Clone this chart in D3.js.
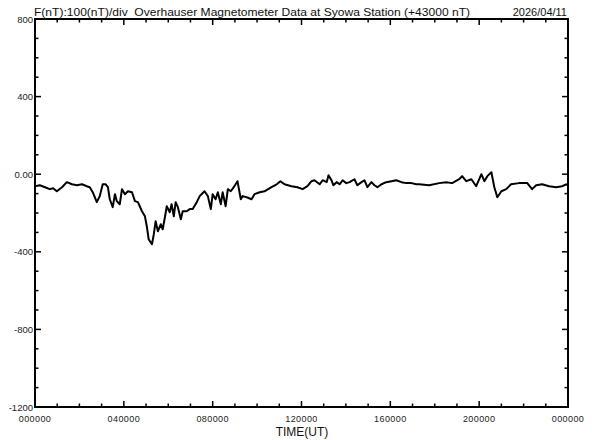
<!DOCTYPE html>
<html><head><meta charset="utf-8">
<script src="https://cdn.jsdelivr.net/npm/d3@7"></script>
<style>body{margin:0;background:#fff}svg{display:block}text{white-space:pre}</style>
</head><body>
<script>
// time in minutes of day (UT), F minus 43000 nT
const timeMin = [0,13,27,40,49,59,73,86,100,113,127,140,148,156,167,175,183,191,197,202,210,216,221,229,235,243,251,262,270,278,289,297,302,307,316,321,326,332,340,345,351,356,364,369,375,380,386,394,399,410,418,426,437,445,450,458,467,475,480,488,494,502,507,515,521,529,537,547,556,561,572,585,593,607,620,639,653,663,674,693,709,723,736,747,755,769,777,788,793,801,806,815,823,831,841,850,863,871,882,890,898,909,917,925,936,949,963,976,990,1003,1017,1030,1038,1065,1092,1111,1127,1146,1154,1165,1179,1192,1206,1214,1222,1233,1241,1249,1260,1273,1286,1308,1330,1343,1354,1370,1389,1408,1424,1435,1440];
const fValue = [-62,-57,-67,-77,-72,-88,-67,-41,-52,-57,-52,-62,-67,-93,-144,-113,-52,-52,-67,-129,-170,-103,-139,-155,-77,-103,-88,-93,-139,-144,-191,-217,-268,-335,-361,-309,-242,-294,-258,-284,-222,-165,-196,-155,-217,-144,-170,-232,-191,-191,-180,-180,-144,-113,-103,-88,-113,-180,-103,-129,-93,-155,-93,-165,-77,-88,-67,-36,-129,-113,-119,-129,-103,-93,-88,-67,-52,-36,-52,-62,-67,-77,-62,-36,-31,-52,-31,-41,-5,-31,-57,-41,-52,-31,-46,-41,-26,-57,-41,-31,-67,-41,-57,-67,-52,-41,-36,-31,-41,-46,-46,-52,-52,-57,-46,-41,-46,-26,-10,-36,-26,-62,0,-36,-10,10,-67,-119,-88,-77,-52,-46,-46,-77,-57,-52,-62,-67,-62,-52,-57];
const yTickValues = [800,400,0,-400,-800,-1200];
const yTickLabels = ["800","400","0.00","-400","-800","-1200"];
const xTickValues = [0,240,480,720,960,1200,1440];
const xTickLabels = ["000000","040000","080000","120000","160000","200000","000000"];
const titleText = "F(nT):100(nT)/div  Overhauser Magnetometer Data at Syowa Station (+43000 nT)";
const dateText = "2026/04/11";
const xAxisTitle = "TIME(UT)";

const W = 592, H = 440;
const L = 35, R = 568, T = 19, B = 407;
const svg = d3.select("body").append("svg").attr("width", W).attr("height", H);
const x = d3.scaleLinear().domain([0,1440]).range([L,R]);
const y = d3.scaleLinear().domain([-1200,800]).range([B,T]);
const font = "'Liberation Sans', Arial, sans-serif";

// minor / major ticks
const g = svg.append("g").attr("stroke","#000").attr("stroke-width",1.5);
d3.range(0,1441,60).forEach(m => {
  const len = (m % 240 === 0) ? 6 : 3.5;
  g.append("line").attr("x1",x(m)).attr("x2",x(m)).attr("y1",B).attr("y2",B-len);
  g.append("line").attr("x1",x(m)).attr("x2",x(m)).attr("y1",T).attr("y2",T+len);
});
d3.range(-1200,801,100).forEach(v => {
  const len = (v % 400 === 0) ? 6 : 3.5;
  g.append("line").attr("x1",L).attr("x2",L+len).attr("y1",y(v)).attr("y2",y(v));
  g.append("line").attr("x1",R).attr("x2",R-len).attr("y1",y(v)).attr("y2",y(v));
});

// frame
svg.append("rect").attr("x",L).attr("y",T).attr("width",R-L).attr("height",B-T)
  .attr("fill","none").attr("stroke","#000").attr("stroke-width",2);

// data line
const pts = timeMin.map((t,i)=>[t,fValue[i]]);
svg.append("path").datum(pts)
  .attr("d", d3.line().x(d=>x(d[0])).y(d=>y(d[1])))
  .attr("fill","none").attr("stroke","#000").attr("stroke-width",2).attr("stroke-linejoin","round");

// y labels
yTickValues.forEach((v,i)=>{
  svg.append("text").attr("x",L-2).attr("y",y(v)+3.5).attr("text-anchor","end")
    .attr("font-family",font).attr("font-size",9.5).attr("fill","#222").text(yTickLabels[i]);
});
// x labels
xTickValues.forEach((m,i)=>{
  svg.append("text").attr("x",x(m)).attr("y",422).attr("text-anchor","middle")
    .attr("font-family",font).attr("font-size",9).attr("letter-spacing",0.4).attr("fill","#222").text(xTickLabels[i]);
});
svg.append("text").attr("x",302).attr("y",436).attr("text-anchor","middle")
  .attr("font-family",font).attr("font-size",12).attr("fill","#111").text(xAxisTitle);

// title
svg.append("text").attr("x",34).attr("y",16).attr("font-family",font).attr("font-size",11)
  .attr("textLength",436).attr("lengthAdjust","spacingAndGlyphs").attr("fill","#111").text(titleText);
svg.append("text").attr("x",567).attr("y",16).attr("text-anchor","end").attr("font-family",font).attr("font-size",11)
  .attr("fill","#111").text(dateText);
</script>
</body></html>
